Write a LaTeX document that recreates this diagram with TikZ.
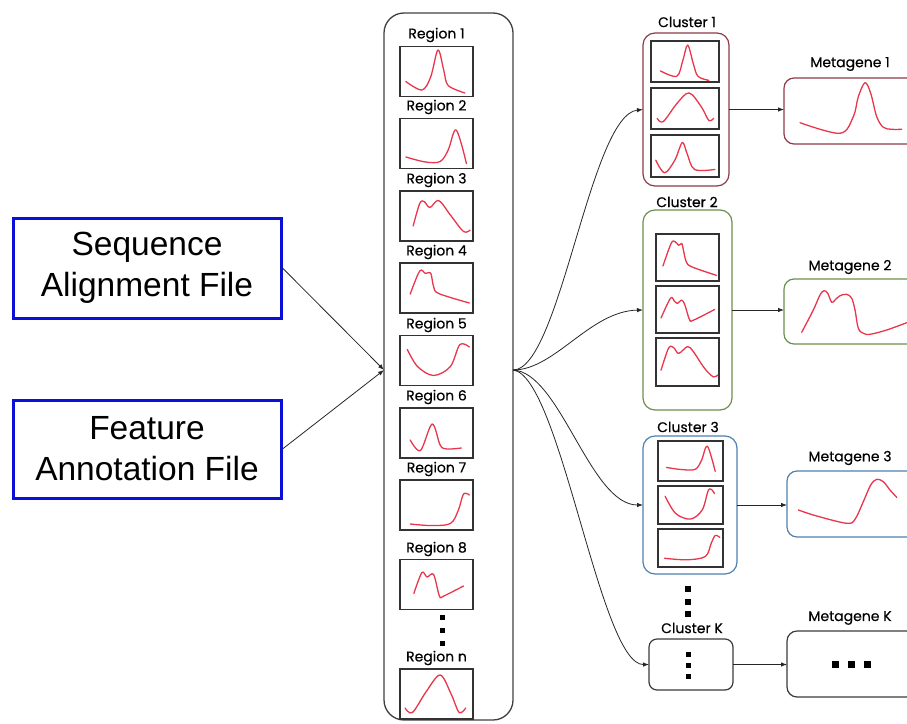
\documentclass[tikz,border=0pt]{standalone}
\usepackage{fontspec}
\setmainfont{Poppins}
\newfontfamily\lblfont[FakeBold=0.4]{Poppins}
\newfontfamily\inputfont{Liberation Sans}
\usetikzlibrary{arrows.meta,calc}

\definecolor{wave}{HTML}{E8364C}
\definecolor{grpone}{HTML}{8E3A48}
\definecolor{grptwo}{HTML}{6A8F4C}
\definecolor{grpthree}{HTML}{4E7FB0}
\definecolor{grpk}{HTML}{3A3A3A}
\definecolor{srcblue}{HTML}{0A10D8}

% draw a profile curve inside a box, in coordinates normalised to the box
\newcommand\wave[4]{%
  \begin{scope}[shift={(#1.south west)}, x=#2, y=#3]
    \draw[wavecurve] plot[smooth, tension=0.55] coordinates {#4};
  \end{scope}}

\begin{document}
\begin{tikzpicture}[x=1pt, y=-1pt,
  plotbox/.style={draw=black!80, line width=1.2pt, inner sep=0pt, outer sep=0pt},
  regbox/.style={plotbox, minimum width=73pt, minimum height=50pt},
  lbl/.style={font=\lblfont\fontsize{14}{16}\selectfont, inner sep=0pt},
  wavecurve/.style={draw=wave, line width=1.3pt, line cap=round, line join=round},
  grp/.style={rounded corners=12pt, line width=1.2pt, inner sep=0pt, outer sep=0pt},
  meta/.style={rounded corners=10pt, line width=1.2pt, inner sep=0pt, outer sep=0pt,
               minimum width=146pt, minimum height=66pt},
  conn/.style={-{Latex[length=6pt,width=4.5pt]}, line width=0.8pt, draw=black!85},
  dotmark/.style={fill=black, inner sep=0pt, minimum size=5.5pt},
  srcbox/.style={draw=srcblue, line width=3pt, minimum width=268pt,
                 font=\inputfont\fontsize{33.5}{41}\selectfont, align=center}]

\useasboundingbox (0,0) rectangle (907,723);
\clip (0,0) rectangle (907,723);

% ---------- input files ----------
\node[srcbox, minimum height=100pt] (seq) at (147,268) {Sequence\\Alignment File};
\node[srcbox, minimum height=98pt]  (feat) at (147,449) {Feature\\Annotation File};

% ---------- region column ----------
\node[draw=black!75, line width=1.3pt, rounded corners=20pt, minimum width=129pt,
      minimum height=707pt, inner sep=0pt, outer sep=0pt] (col) at (448.5,366.5) {};
\coordinate (merge) at (384,370);
\coordinate (fan) at (513,370);

\node[lbl] (l1) at (436.5,35)  {Region 1};
\node[regbox] (r1) at (436.5,71.5) {};
\node[lbl] (l2) at (436.5,107) {Region 2};
\node[regbox] (r2) at (436.5,143.5) {};
\node[lbl] (l3) at (436.5,180) {Region 3};
\node[regbox] (r3) at (436.5,216) {};
\node[lbl] (l4) at (436.5,252) {Region 4};
\node[regbox] (r4) at (436.5,288) {};
\node[lbl] (l5) at (436.5,325) {Region 5};
\node[regbox] (r5) at (436.5,360.5) {};
\node[lbl] (l6) at (436.5,397) {Region 6};
\node[regbox] (r6) at (436.5,433) {};
\node[lbl] (l7) at (436.5,469) {Region 7};
\node[regbox] (r7) at (436.5,505) {};
\node[lbl] (l8) at (436.5,549) {Region 8};
\node[regbox] (r8) at (436.5,584.5) {};
\node[dotmark, minimum size=5pt] (rd1) at (442,617) {};
\node[dotmark, minimum size=5pt] (rd2) at (442,630) {};
\node[dotmark, minimum size=5pt] (rd3) at (442,643) {};
\node[lbl] (ln) at (436.5,658) {Region n};
\node[regbox] (rn) at (436.5,694) {};

\wave{r1}{73pt}{50pt}{(0.08,0.30) (0.30,0.13) (0.42,0.39) (0.52,0.93) (0.60,0.52) (0.66,0.22) (0.89,0.07)}
\wave{r2}{73pt}{50pt}{(0.08,0.23) (0.35,0.13) (0.55,0.14) (0.66,0.37) (0.77,0.77) (0.91,0.10)}
\wave{r3}{73pt}{50pt}{(0.18,0.30) (0.27,0.75) (0.33,0.79) (0.41,0.67) (0.53,0.81) (0.69,0.52) (0.87,0.19) (0.96,0.22)}
\wave{r4}{73pt}{50pt}{(0.14,0.38) (0.27,0.84) (0.35,0.79) (0.42,0.80) (0.46,0.53) (0.53,0.39) (0.95,0.20)}
\wave{r5}{73pt}{50pt}{(0.10,0.72) (0.24,0.38) (0.46,0.20) (0.69,0.38) (0.82,0.82) (0.95,0.77)}
\wave{r6}{73pt}{50pt}{(0.14,0.36) (0.28,0.15) (0.44,0.68) (0.55,0.26) (0.64,0.18) (0.84,0.20)}
\wave{r7}{73pt}{50pt}{(0.14,0.12) (0.42,0.09) (0.69,0.13) (0.80,0.40) (0.87,0.72) (0.95,0.70)}
\wave{r8}{73pt}{50pt}{(0.19,0.32) (0.30,0.74) (0.37,0.65) (0.46,0.70) (0.54,0.27) (0.60,0.27) (0.87,0.47)}
\wave{rn}{73pt}{50pt}{(0.07,0.22) (0.17,0.13) (0.36,0.55) (0.55,0.88) (0.70,0.50) (0.81,0.13) (0.90,0.22)}

% ---------- cluster 1 ----------
\node[lbl] (cl1) at (687,22) {Cluster 1};
\node[grp, draw=grpone, minimum width=86pt, minimum height=153pt] (c1) at (686,109.5) {};
\node[plotbox, minimum width=68pt, minimum height=41pt] (c1a) at (685,61.5) {};
\node[plotbox, minimum width=68pt, minimum height=41pt] (c1b) at (685,108.5) {};
\node[plotbox, minimum width=68pt, minimum height=42pt] (c1c) at (685,156) {};
\wave{c1a}{68pt}{41pt}{(0.14,0.27) (0.38,0.14) (0.47,0.54) (0.54,0.90) (0.62,0.46) (0.69,0.14) (0.85,0.04)}
\wave{c1b}{68pt}{41pt}{(0.09,0.26) (0.18,0.18) (0.38,0.62) (0.56,0.88) (0.74,0.54) (0.85,0.21) (0.92,0.26)}
\wave{c1c}{68pt}{42pt}{(0.07,0.40) (0.20,0.10) (0.35,0.40) (0.46,0.82) (0.53,0.56) (0.64,0.18) (0.94,0.18)}

\node[lbl] (ml1) at (850,64) {Metagene 1};
\node[meta, draw=grpone] (m1) at (857,111) {};
\draw[wavecurve] plot[smooth, tension=0.55] coordinates {(800,122.7) (840,133.3) (853.3,116.7) (858.3,96.7) (865,82.7) (870.7,93.3) (876.7,116.7) (883.3,127.3) (891.7,129.3) (901.7,129.3)};

% ---------- cluster 2 ----------
\node[lbl] (cl2) at (687,202) {Cluster 2};
\node[grp, draw=grptwo, minimum width=89pt, minimum height=200pt] (c2) at (687.5,310) {};
\node[plotbox, minimum width=63pt, minimum height=47pt] (c2a) at (687.5,257.5) {};
\node[plotbox, minimum width=63pt, minimum height=47pt] (c2b) at (687.5,309.5) {};
\node[plotbox, minimum width=63pt, minimum height=48pt] (c2c) at (687.5,362) {};
\wave{c2a}{63pt}{47pt}{(0.11,0.32) (0.24,0.80) (0.30,0.84) (0.36,0.76) (0.41,0.80) (0.43,0.69) (0.48,0.41) (0.57,0.30) (0.96,0.12)}
\wave{c2b}{63pt}{47pt}{(0.08,0.32) (0.23,0.74) (0.29,0.68) (0.34,0.63) (0.41,0.70) (0.46,0.59) (0.53,0.29) (0.59,0.27) (0.93,0.50)}
\wave{c2c}{63pt}{48pt}{(0.08,0.33) (0.20,0.79) (0.28,0.80) (0.36,0.68) (0.50,0.82) (0.59,0.72) (0.77,0.37) (0.91,0.19) (0.98,0.23)}

\node[lbl] (ml2) at (850,267) {Metagene 2};
\node[meta, draw=grptwo, minimum height=65pt] (m2) at (857,311.5) {};
\draw[wavecurve] plot[smooth, tension=0.55] coordinates {(801.7,332.3) (813.3,310) (820,295) (824,290.7) (827.7,293.3) (831.7,302.3) (835,300) (840,295.7) (846.7,294.3) (851.7,298.3) (855,310) (858.3,328.3) (863.3,333.3) (870,334.3) (886.7,330) (906.7,322.7)};

% ---------- cluster 3 ----------
\node[lbl] (cl3) at (688,427) {Cluster 3};
\node[grp, draw=grpthree, minimum width=94pt, minimum height=138pt] (c3) at (690,505) {};
\node[plotbox, minimum width=65pt, minimum height=40pt] (c3a) at (690.5,461) {};
\node[plotbox, minimum width=65pt, minimum height=38pt] (c3b) at (690.5,505) {};
\node[plotbox, minimum width=65pt, minimum height=38pt] (c3c) at (690.5,548) {};
\wave{c3a}{65pt}{40pt}{(0.13,0.34) (0.34,0.29) (0.57,0.29) (0.67,0.52) (0.76,0.87) (0.88,0.24)}
\wave{c3b}{65pt}{38pt}{(0.11,0.73) (0.27,0.28) (0.50,0.13) (0.68,0.37) (0.77,0.87) (0.82,0.91) (0.87,0.80)}
\wave{c3c}{65pt}{38pt}{(0.10,0.23) (0.45,0.19) (0.73,0.28) (0.82,0.63) (0.88,0.83) (0.95,0.78)}

\node[lbl] (ml3) at (850,458) {Metagene 3};
\node[meta, draw=grpthree, minimum width=143pt] (m3) at (858.5,504) {};
\draw[wavecurve] plot[smooth, tension=0.55] coordinates {(798.3,510) (816.7,516) (846.7,523.3) (855,519.3) (863.3,501.7) (870.7,485) (876.7,479.3) (883.3,481.7) (890,490) (896.7,497.3)};

% ---------- ellipsis between clusters ----------
\node[dotmark] (cd1) at (688,589) {};
\node[dotmark] (cd2) at (688,602) {};
\node[dotmark] (cd3) at (688,614) {};

% ---------- cluster K ----------
\node[lbl] (clk) at (692,628) {Cluster K};
\node[grp, rounded corners=8pt, draw=grpk, minimum width=84pt, minimum height=51pt] (ck) at (691,664.5) {};
\node[dotmark, minimum size=5pt] (kd1) at (688,654) {};
\node[dotmark, minimum size=5pt] (kd2) at (688,665) {};
\node[dotmark, minimum size=5pt] (kd3) at (688,676) {};

\node[lbl] (mlk) at (850,618) {Metagene K};
\node[meta, draw=grpk, minimum width=143pt] (mk) at (858.5,664) {};
\node[dotmark, minimum size=7pt] (md1) at (835,664) {};
\node[dotmark, minimum size=7pt] (md2) at (851,664) {};
\node[dotmark, minimum size=7pt] (md3) at (867,664) {};

% ---------- connectors ----------
\draw[conn] (seq.east) -- (merge);
\draw[conn] (feat.east) -- (merge);

\draw[conn] (fan) .. controls (560,370) and (590,115) .. (c1.west);
\draw[conn] (fan) .. controls (555,370) and (590,311) .. (c2.west);
\draw[conn] (fan) .. controls (560,372) and (590,505) .. (c3.west);
\draw[conn] (fan) .. controls (560,375) and (600,665) .. (ck.west);

\draw[conn] (c1.east) -- (c1.east -| m1.west);
\draw[conn] (c2.east) -- (c2.east -| m2.west);
\draw[conn] (c3.east) -- (c3.east -| m3.west);
\draw[conn] (ck.east) -- (ck.east -| mk.west);

\end{tikzpicture}
\end{document}
